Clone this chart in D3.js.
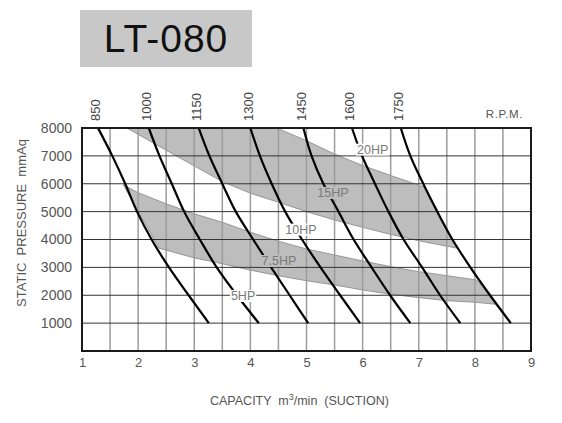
<!DOCTYPE html>
<html>
<head>
<meta charset="utf-8">
<script src="https://cdn.jsdelivr.net/npm/d3@7"></script>
<style>
  body { margin: 0; background: #fff; }
  svg { display: block; }
  text { white-space: pre; }
</style>
</head>
<body>
<div id="chart"></div>
<script>
// LT-080 performance chart

const modelName = "LT-080";
const rpmLabels = ["850", "1000", "1150", "1300", "1450", "1600", "1750"];
const pressureLevels = [8000, 7000, 6000, 5000, 4000, 3000, 2000, 1000];

// capacity (m3/min) of each rpm curve at the pressure levels above
const rpm850  = [1.285, 1.54, 1.77, 1.98, 2.24, 2.55, 2.90, 3.26];
const rpm1000 = [2.19, 2.38, 2.60, 2.82, 3.10, 3.40, 3.76, 4.15];
const rpm1150 = [3.08, 3.27, 3.50, 3.74, 4.05, 4.37, 4.70, 5.03];
const rpm1300 = [4.00, 4.17, 4.38, 4.62, 4.92, 5.25, 5.60, 5.955];
const rpm1450 = [4.945, 5.09, 5.30, 5.57, 5.84, 6.16, 6.49, 6.85];
const rpm1600 = [5.81, 5.99, 6.22, 6.46, 6.73, 7.06, 7.38, 7.74];
const rpm1750 = [6.68, 6.85, 7.08, 7.33, 7.60, 7.92, 8.27, 8.64];
const rpmCurves = [rpm850, rpm1000, rpm1150, rpm1300, rpm1450, rpm1600, rpm1750];

// shaded power bands, [capacity, pressure]
const upperBandTop = [[1.80, 8000], [4.47, 8000], [5.0, 7544], [5.5, 7064], [6.0, 6656],
  [6.5, 6296], [7.10, 5880], [7.33, 5000], [7.60, 4000], [7.68, 3690]];
const upperBandBottom = [[1.80, 8000], [2.49, 7215], [3.02, 6615], [3.50, 6077], [4.0, 5660],
  [4.5, 5335], [5.0, 5000], [5.5, 4700], [6.0, 4435], [6.5, 4183], [7.0, 3955], [7.68, 3690]];
const lowerBandTop = [[1.735, 5964], [2.0, 5680], [2.5, 5280], [3.0, 4920], [3.5, 4620],
  [4.0, 4260], [4.5, 3940], [5.0, 3660], [5.5, 3446], [6.0, 3230], [6.5, 3027], [7.0, 2847],
  [7.5, 2704], [8.03, 2548], [8.22, 2100], [8.38, 1676]];
const lowerBandBottom = [[2.37, 3690], [3.0, 3340], [3.5, 3130], [4.0, 2900], [4.5, 2700],
  [5.0, 2520], [5.5, 2370], [6.0, 2190], [6.5, 2035], [7.0, 1914], [7.5, 1806], [8.0, 1748], [8.38, 1676]];

// power labels
const hpNames = ["20HP", "15HP", "10HP", "7.5HP", "5HP"];
const hpCapacity = [6.18, 5.47, 4.90, 4.51, 3.87];
const hpPressure = [7225, 5671, 4354, 3230, 1974];
const hpInBand = [false, true, false, true, false];

const capacityTicks = [1, 2, 3, 4, 5, 6, 7, 8, 9];
const pressureTicks = [1000, 2000, 3000, 4000, 5000, 6000, 7000, 8000];

const FONT = "'Liberation Sans', Arial, sans-serif";
const BAND = "#bdbdbd";

const svg = d3.select('#chart').append('svg')
  .attr('width', 562)
  .attr('height', 423)
  .attr('font-family', FONT);

const x = d3.scaleLinear().domain([1, 9]).range([82, 531]);
const y = d3.scaleLinear().domain([0, 8000]).range([351, 128]);

// title box
svg.append('rect')
  .attr('x', 80).attr('y', 10).attr('width', 172).attr('height', 57)
  .attr('fill', '#c8c8c8');
svg.append('text')
  .attr('x', 166).attr('y', 52)
  .attr('text-anchor', 'middle')
  .attr('font-size', 39)
  .attr('letter-spacing', 1)
  .attr('fill', '#111')
  .text(modelName);

// bands
const poly = d3.line().x(d => x(d[0])).y(d => y(d[1]));
[[upperBandTop, upperBandBottom], [lowerBandTop, lowerBandBottom]].forEach(([a, b]) => {
  svg.append('path')
    .attr('d', poly(a.concat(b.slice().reverse())) + 'Z')
    .attr('fill', BAND)
    .attr('stroke', '#858585')
    .attr('stroke-width', 0.8);
});

// grid
const grid = svg.append('g');
grid.selectAll('line.v')
  .data(x.ticks(16).slice(1, -1))
  .join('line')
  .attr('class', 'v')
  .attr('x1', d => x(d)).attr('x2', d => x(d))
  .attr('y1', y(0)).attr('y2', y(8000))
  .attr('stroke', '#9c9c9c')
  .attr('stroke-width', 1.5);
grid.selectAll('line.h')
  .data(y.ticks(8).slice(1, -1))
  .join('line')
  .attr('class', 'h')
  .attr('x1', x(1)).attr('x2', x(9))
  .attr('y1', d => y(d)).attr('y2', d => y(d))
  .attr('stroke', '#333')
  .attr('stroke-width', 1);

// rpm curves
const curveLine = d3.line()
  .x(d => x(d[0]))
  .y(d => y(d[1]))
  .curve(d3.curveMonotoneY);
svg.append('g').selectAll('path')
  .data(rpmCurves.map(c => c.map((v, i) => [v, pressureLevels[i]])))
  .join('path')
  .attr('d', curveLine)
  .attr('fill', 'none')
  .attr('stroke', '#000')
  .attr('stroke-width', 2.2);

// frame
svg.append('rect')
  .attr('x', x(1)).attr('y', y(8000))
  .attr('width', x(9) - x(1)).attr('height', y(0) - y(8000))
  .attr('fill', 'none')
  .attr('stroke', '#1a1a1a')
  .attr('stroke-width', 2);

// hp labels with background
const hpG = svg.append('g');
hpNames.forEach((name, i) => {
  const g = hpG.append('g');
  const t = g.append('text')
    .attr('x', x(hpCapacity[i]))
    .attr('y', y(hpPressure[i]))
    .attr('text-anchor', 'middle')
    .attr('dominant-baseline', 'central')
    .attr('font-size', 12.5)
    .attr('fill', '#7a7a7a')
    .text(name);
  const bb = t.node().getBBox();
  g.insert('rect', 'text')
    .attr('x', bb.x - 1).attr('y', bb.y + 1)
    .attr('width', bb.width + 2).attr('height', bb.height - 2)
    .attr('fill', hpInBand[i] ? BAND : '#fff');
});

// axes
const yAxis = svg.append('g')
  .attr('transform', `translate(${x(1)},0)`)
  .call(d3.axisLeft(y).tickValues(pressureTicks).tickFormat(d3.format('d')).tickSize(0).tickPadding(10));
yAxis.select('.domain').remove();
yAxis.selectAll('text')
  .attr('font-family', FONT)
  .attr('font-size', 14)
  .attr('fill', '#555');

const xAxis = svg.append('g')
  .attr('transform', `translate(0,${y(0)})`)
  .call(d3.axisBottom(x).tickValues(capacityTicks).tickSize(0).tickPadding(7));
xAxis.select('.domain').remove();
xAxis.selectAll('text')
  .attr('font-family', FONT)
  .attr('font-size', 13)
  .attr('fill', '#555');

// rpm labels on top
svg.append('g').selectAll('text')
  .data(rpmLabels)
  .join('text')
  .attr('transform', (d, i) => `translate(${x(rpmCurves[i][0]) - 2},121) rotate(-90)`)
  .attr('dominant-baseline', 'central')
  .attr('font-size', 13)
  .attr('fill', '#444')
  .text(d => d);

svg.append('text')
  .attr('x', 523).attr('y', 118)
  .attr('text-anchor', 'end')
  .attr('font-size', 11.5)
  .attr('letter-spacing', 0.6)
  .attr('fill', '#555')
  .text('R.P.M.');

// axis titles
const xt = svg.append('text')
  .attr('x', 210).attr('y', 405)
  .attr('font-size', 12.5)
  .attr('fill', '#555');
xt.append('tspan').text('CAPACITY  m');
xt.append('tspan').attr('dy', -5).attr('font-size', 9).text('3');
xt.append('tspan').attr('dy', 5).text('/min  (SUCTION)');

svg.append('text')
  .attr('transform', 'translate(26,223) rotate(-90)')
  .attr('text-anchor', 'middle')
  .attr('font-size', 13)
  .attr('fill', '#555')
  .text('STATIC  PRESSURE  mmAq');
</script>
</body>
</html>
